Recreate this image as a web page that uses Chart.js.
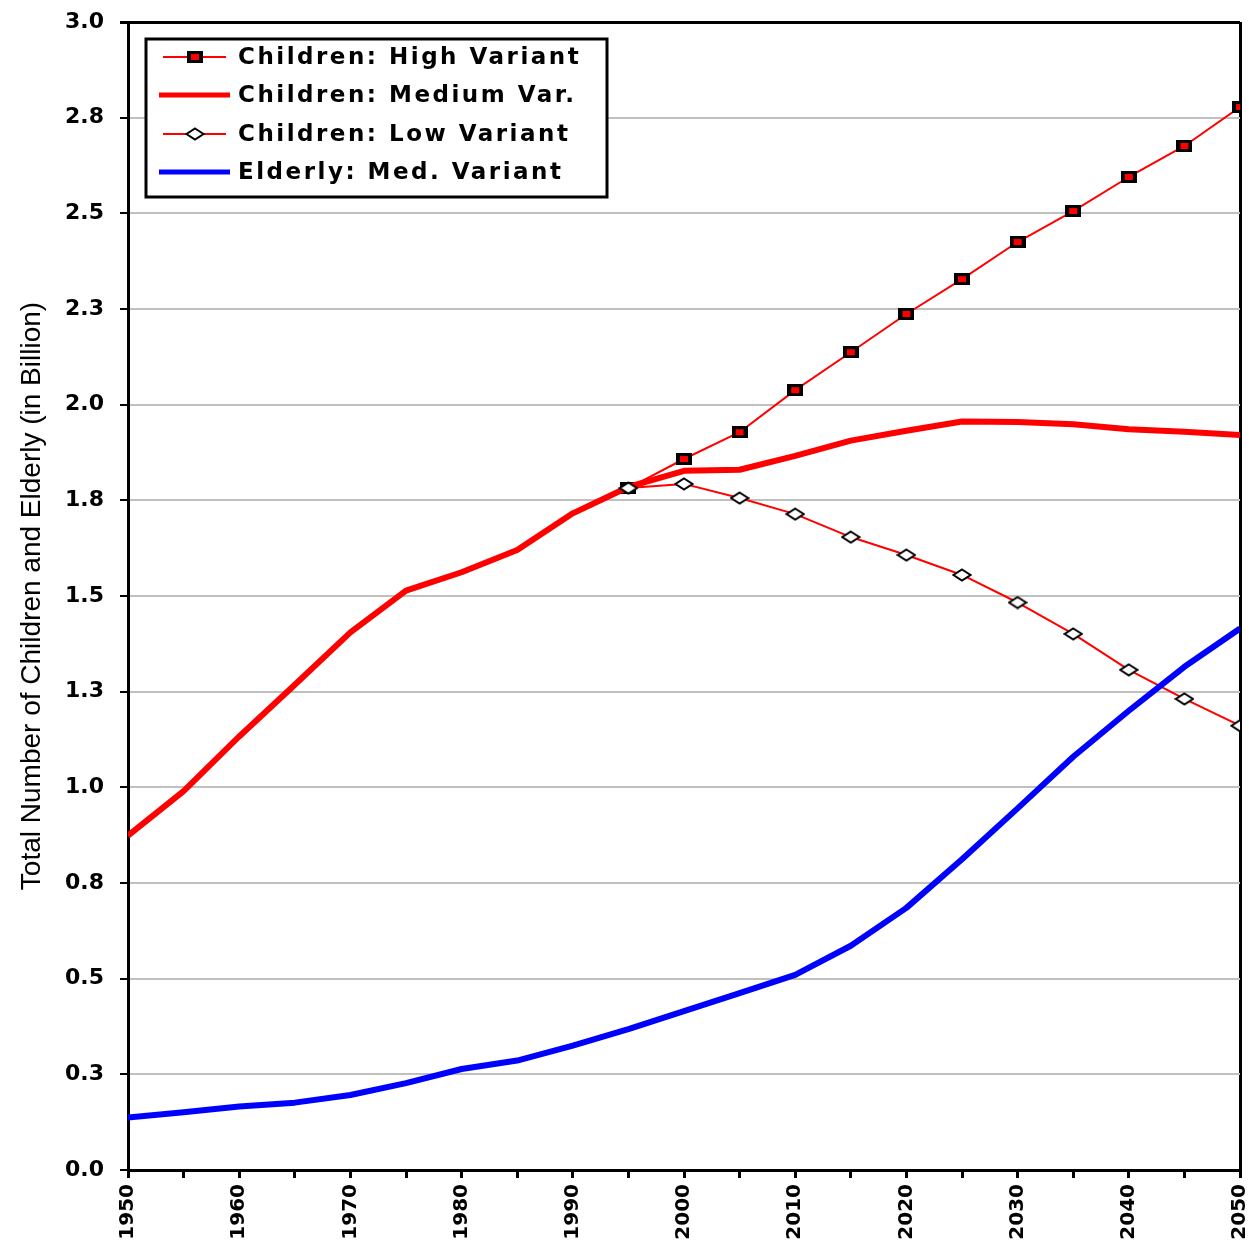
<!DOCTYPE html>
<html>
<head>
<meta charset="utf-8">
<script src="https://cdn.jsdelivr.net/npm/chart.js@4"></script>
<style>
  html, body { margin: 0; padding: 0; background: #fff; }
  #wrap { width: 1249px; height: 1245px; }
</style>
</head>
<body>
<div id="wrap"><canvas id="myChart"></canvas></div>
<script>
// values (billions)
const years = [1950, 1955, 1960, 1965, 1970, 1975, 1980, 1985, 1990, 1995, 2000,
  2005, 2010, 2015, 2020, 2025, 2030, 2035, 2040, 2045, 2050];
const projYears = [1995, 2000, 2005, 2010, 2015, 2020, 2025, 2030, 2035, 2040, 2045, 2050];

const childrenMedium = [0.874, 0.99, 1.133, 1.268, 1.405, 1.514, 1.562, 1.62, 1.716, 1.785, 1.827,
  1.83, 1.866, 1.906, 1.932, 1.956, 1.955, 1.949, 1.936, 1.929, 1.921];
const elderlyMedium = [0.137, 0.151, 0.166, 0.176, 0.196, 0.227, 0.264, 0.286, 0.325, 0.368, 0.415,
  0.462, 0.51, 0.586, 0.685, 0.812, 0.945, 1.08, 1.2, 1.315, 1.415];
const childrenHigh = [1.782, 1.858, 1.928, 2.038, 2.137, 2.237, 2.328, 2.425, 2.506, 2.595, 2.676, 2.778];
const childrenLow = [1.782, 1.793, 1.756, 1.714, 1.654, 1.607, 1.555, 1.483, 1.401, 1.307, 1.231, 1.161];

const seriesNames = ["Children: High Variant", "Children: Medium Var.", "Children: Low Variant", "Elderly: Med. Variant"];
const yTickLabels = ["0.0", "0.3", "0.5", "0.8", "1.0", "1.3", "1.5", "1.8", "2.0", "2.3", "2.5", "2.8", "3.0"];
const xTickLabels = ["1950", "1960", "1970", "1980", "1990", "2000", "2010", "2020", "2030", "2040", "2050"];

const toPoints = (xs, ys) => xs.map((x, i) => ({ x: x, y: ys[i] }));

// marker images (the original is a bit wider than tall)
function squareMarker() {
  const c = document.createElement("canvas");
  c.width = 16; c.height = 12;
  const g = c.getContext("2d");
  g.fillStyle = "#000";
  g.fillRect(0, 0, 16, 12);
  g.fillStyle = "#ff0000";
  g.fillRect(4, 3, 8, 6);
  return c;
}
function diamondMarker() {
  const c = document.createElement("canvas");
  c.width = 20; c.height = 14;
  const g = c.getContext("2d");
  g.beginPath();
  g.moveTo(10, 1.5); g.lineTo(18.5, 7); g.lineTo(10, 12.5); g.lineTo(1.5, 7); g.closePath();
  g.fillStyle = "#fff";
  g.fill();
  g.lineWidth = 2;
  g.strokeStyle = "#000";
  g.stroke();
  return c;
}
const sqImg = squareMarker();
const diaImg = diamondMarker();

const boxLegend = {
  id: "boxLegend",
  afterDraw(chart) {
    const c = chart.ctx;
    c.save();
    c.fillStyle = "#fff";
    c.fillRect(146, 39, 461, 158);
    c.lineWidth = 3;
    c.strokeStyle = "#000";
    c.strokeRect(146, 39, 461, 158);

    const rows = [57, 95, 134, 172];
    // samples
    c.lineCap = "butt";
    c.strokeStyle = "#ff0000";
    c.lineWidth = 2;
    c.beginPath(); c.moveTo(163, rows[0]); c.lineTo(226, rows[0]); c.stroke();
    c.drawImage(sqImg, 195 - 8, rows[0] - 6);
    c.lineWidth = 5;
    c.beginPath(); c.moveTo(159, rows[1]); c.lineTo(230, rows[1]); c.stroke();
    c.lineWidth = 2;
    c.beginPath(); c.moveTo(163, rows[2]); c.lineTo(226, rows[2]); c.stroke();
    c.drawImage(diaImg, 195 - 10, rows[2] - 7);
    c.strokeStyle = "#0000ff";
    c.lineWidth = 5;
    c.beginPath(); c.moveTo(159, rows[3]); c.lineTo(230, rows[3]); c.stroke();

    c.fillStyle = "#000";
    c.font = "bold 23px 'DejaVu Sans'";
    c.textBaseline = "middle";
    if ("letterSpacing" in c) c.letterSpacing = "2.5px";
    seriesNames.forEach((n, i) => c.fillText(n, 238, rows[i] + 1));
    c.restore();
  }
};

const ctx = document.getElementById("myChart").getContext("2d");

new Chart(ctx, {
  type: "line",
  data: {
    datasets: [
      {
        label: seriesNames[0],
        data: toPoints(projYears, childrenHigh),
        borderColor: "#ff0000",
        borderWidth: 2,
        pointStyle: sqImg,
        pointRadius: 6,
        order: 3,
      },
      {
        label: seriesNames[1],
        data: toPoints(years, childrenMedium),
        borderColor: "#ff0000",
        borderWidth: 6,
        pointRadius: 0,
        order: 2,
      },
      {
        label: seriesNames[2],
        data: toPoints(projYears, childrenLow),
        borderColor: "#ff0000",
        borderWidth: 2,
        pointStyle: diaImg,
        pointRadius: 6,
        order: 1,
      },
      {
        label: seriesNames[3],
        data: toPoints(years, elderlyMedium),
        borderColor: "#0000ff",
        borderWidth: 6,
        pointRadius: 0,
        order: 0,
      },
    ],
  },
  options: {
    responsive: true,
    maintainAspectRatio: false,
    animation: false,
    events: [],
    layout: { padding: { top: 22, right: 9, left: 0, bottom: 0 } },
    elements: { line: { tension: 0, borderJoinStyle: "round", fill: false } },
    plugins: {
      legend: { display: false },
      tooltip: { enabled: false },
    },
    scales: {
      x: {
        type: "linear",
        min: 1950,
        max: 2050,
        afterFit: (s) => { s.height = 75; s.paddingLeft = 0; s.paddingRight = 0; },
        border: { color: "#000", width: 3 },
        grid: {
          color: (c) => (c.tick && c.tick.value === 2050 ? "#000" : "rgba(0,0,0,0)"),
          lineWidth: 3,
          tickColor: "#000",
          tickLength: 8,
        },
        ticks: {
          stepSize: 5,
          autoSkip: false,
          minRotation: 90,
          maxRotation: 90,
          padding: 6,
          color: "#000",
          font: { family: "DejaVu Sans", size: 20, weight: "bold" },
          callback: (v) => {
            const s = String(v);
            return xTickLabels.includes(s) ? s : "";
          },
        },
      },
      y: {
        min: 0,
        max: 3,
        afterFit: (s) => { s.width = 128; s.paddingTop = 0; s.paddingBottom = 0; },
        border: { color: "#000", width: 3 },
        grid: {
          color: (c) => (c.tick && c.tick.value >= 3 ? "#000" : "#c0c0c0"),
          lineWidth: (c) => (c.tick && c.tick.value >= 3 ? 3 : 2),
          tickColor: "#000",
          tickLength: 8,
        },
        ticks: {
          stepSize: 0.25,
          autoSkip: false,
          padding: 16,
          color: "#000",
          font: { family: "DejaVu Sans", size: 22, weight: "bold" },
          callback: (v) => yTickLabels[Math.round(v / 0.25)],
        },
        title: {
          display: true,
          text: "Total Number of Children and Elderly (in Billion)",
          color: "#000",
          font: { family: "Liberation Sans", size: 28 },
          padding: { top: 15, bottom: 0 },
        },
      },
    },
  },
  plugins: [boxLegend],
});
</script>
</body>
</html>
